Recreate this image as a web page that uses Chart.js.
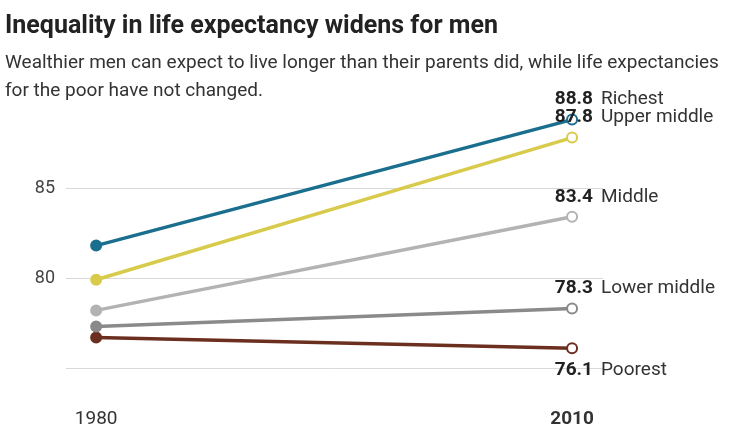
<!DOCTYPE html>
<html>
<head>
<meta charset="utf-8">
<script src="https://cdn.jsdelivr.net/npm/chart.js@4"></script>
<style>
  body { margin: 0; background: #fff; }
  #wrap { position: relative; width: 735px; height: 446px; overflow: hidden; }
  #title { position: absolute; left: 5px; top: 10px; font: bold 25px "Liberation Sans Narrow", "Roboto", sans-serif; color: #222; white-space: nowrap; }
  #sub { position: absolute; left: 5px; top: 48px; font: 19px "Liberation Sans Narrow", "Roboto", sans-serif; line-height: 28px; color: #333; white-space: nowrap; }
  canvas { position: absolute; left: 0; top: 0; }
</style>
</head>
<body>
<div id="wrap">
  <canvas id="myChart" width="735" height="446"></canvas>
  <div id="title">Inequality in life expectancy widens for men</div>
  <div id="sub">Wealthier men can expect to live longer than their parents did, while life expectancies<br>for the poor have not changed.</div>
</div>
<script>
const years = [1980, 2010];
const groups = ['Richest', 'Upper middle', 'Middle', 'Lower middle', 'Poorest'];
const richest = [81.8, 88.8];
const upperMiddle = [79.9, 87.8];
const middle = [78.2, 83.4];
const lowerMiddle = [77.3, 78.3];
const poorest = [76.7, 76.1];
const yTicks = [75, 80, 85];
const yLabels = ['', '80', '85'];

const colors = ['#1a6e8e', '#d8cb4b', '#b3b3b3', '#8a8a8a', '#6b2f1f'];
const font = '"Liberation Sans Narrow", "Roboto", sans-serif';

let series = [richest, upperMiddle, middle, lowerMiddle, poorest];

let datasets = series.map((vals, i) => ({
    label: groups[i],
    data: vals.map((v, j) => ({ x: years[j], y: v })),
    borderColor: colors[i],
    borderWidth: 3.5,
    pointRadius: 5,
    pointBorderWidth: 2,
    pointBorderColor: colors[i],
    pointBackgroundColor: ctx => ctx.dataIndex === 0 ? colors[i] : '#fff',
}));

// value + name labels next to the 2010 points
const endLabels = {
    id: 'endLabels',
    afterDatasetsDraw(chart) {
        let ctx = chart.ctx;
        ctx.save();
        ctx.textBaseline = 'middle';
        chart.data.datasets.forEach((ds, i) => {
            let pt = chart.getDatasetMeta(i).data[1];
            let below = i === chart.data.datasets.length - 1;
            let y = pt.y + (below ? 22 : -20);
            ctx.font = 'bold 19px ' + font;
            ctx.fillStyle = '#222';
            ctx.textAlign = 'right';
            ctx.fillText(series[i][1].toFixed(1), 593, y);
            ctx.font = '19px ' + font;
            ctx.fillStyle = '#333';
            ctx.textAlign = 'left';
            ctx.fillText(ds.label, 601, y);
        });
        ctx.restore();
    }
};

new Chart(document.getElementById('myChart'), {
    type: 'line',
    data: { datasets: datasets },
    options: {
        responsive: false,
        animation: false,
        devicePixelRatio: 1,
        layout: { padding: { top: 98, right: 132, left: 0, bottom: 0 } },
        plugins: { legend: { display: false }, tooltip: { enabled: false } },
        scales: {
            x: {
                type: 'linear',
                min: 1978.1,
                max: 2011.95,
                afterBuildTicks: s => { s.ticks = years.map(v => ({ value: v })); },
                afterFit: s => { s.height = 78; },
                grid: { display: false, drawTicks: false },
                border: { display: false },
                ticks: {
                    padding: 40,
                    color: '#333',
                    font: ctx => ({ family: font, size: 19, weight: ctx.index === 1 ? 'bold' : 'normal' }),
                    callback: v => String(v),
                },
            },
            y: {
                min: 75,
                max: 90,
                afterBuildTicks: s => { s.ticks = yTicks.map(v => ({ value: v })); },
                afterFit: s => { s.width = 66; },
                grid: { color: '#d9d9d9', lineWidth: 1, drawTicks: false },
                border: { display: false },
                ticks: {
                    padding: 11,
                    color: '#444',
                    font: { family: font, size: 18 },
                    callback: v => yLabels[yTicks.indexOf(v)],
                },
            },
        },
    },
    plugins: [endLabels],
});
</script>
</body>
</html>
